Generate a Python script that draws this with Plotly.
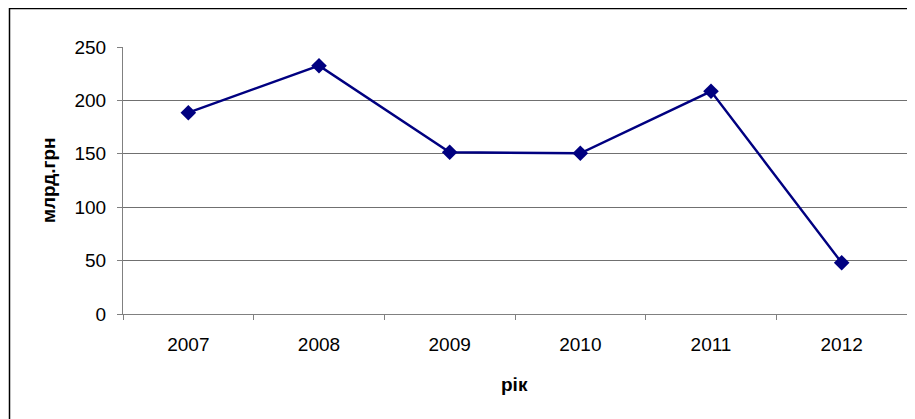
import plotly.graph_objects as go

years = ["2007", "2008", "2009", "2010", "2011", "2012"]
values = [188.5, 232.5, 151.5, 150.5, 208.5, 48]
y_ticks = [0, 50, 100, 150, 200, 250]

# page body has an 8px margin, so the figure starts at (8, 8)
OFF = 8
W, H = 915 - OFF, 419 - OFF
L, R, T, B = 123 - OFF, 8, 47 - OFF, 105
pw = W - L - R
ph = H - T - B

def px(x):
    return (x - OFF - L) / pw

def py(y):
    return (H - B - (y - OFF)) / ph

font = "Liberation Sans, Arial, sans-serif"

fig = go.Figure()
fig.add_trace(go.Scatter(
    x=years, y=values, mode="lines+markers",
    line=dict(color="#000080", width=2.4),
    marker=dict(symbol="diamond", size=12, color="#000080"),
    showlegend=False, hoverinfo="x+y",
))

fig.update_layout(
    width=W, height=H,
    margin=dict(l=L, r=R, t=T, b=B, pad=0),
    paper_bgcolor="white", plot_bgcolor="white",
    font=dict(family=font, size=19, color="black"),
    xaxis=dict(
        type="category", tickson="boundaries", ticks="outside", ticklen=5,
        tickcolor="#808080", showline=True, linecolor="#808080", linewidth=1,
        showgrid=False, range=[-0.5, 5.5], ticklabelstandoff=13,
        tickfont=dict(size=19),
    ),
    yaxis=dict(
        range=[0, 250], tickvals=y_ticks, ticks="outside", ticklen=5,
        tickcolor="#808080", showline=True, linecolor="#808080", linewidth=1,
        showgrid=True, gridcolor="#707070", gridwidth=1, zeroline=False,
        ticklabelstandoff=7, tickfont=dict(size=19),
    ),
    annotations=[
        dict(text="<b>млрд.грн</b>", xref="paper", yref="paper",
             x=px(48), y=py(180), textangle=-90, showarrow=False,
             font=dict(size=19), xanchor="center", yanchor="middle"),
        dict(text="<b>рік</b>", xref="paper", yref="paper",
             x=px(514), y=py(384), showarrow=False,
             font=dict(size=19), xanchor="center", yanchor="middle"),
    ],
    shapes=[
        dict(type="rect", xref="paper", yref="paper",
             x0=px(9.5), x1=px(914.5), y0=py(440), y1=py(8.5),
             line=dict(color="black", width=1.5), layer="below"),
    ],
)

fig.write_html("out.html")
